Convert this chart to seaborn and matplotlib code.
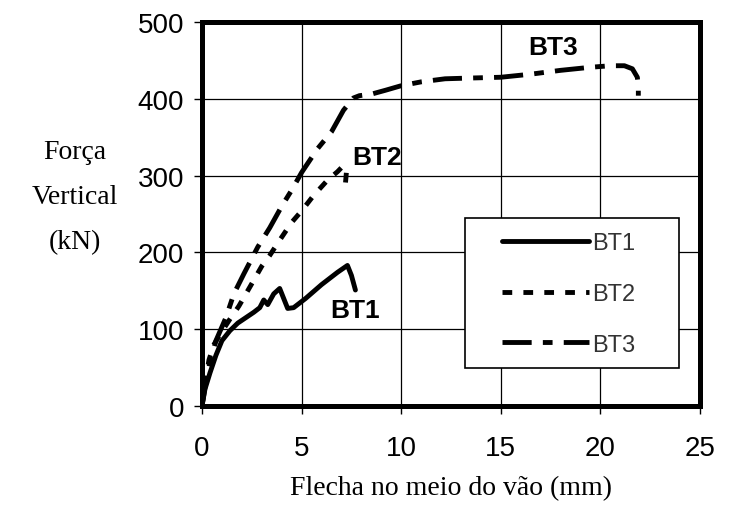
import seaborn as sns
import numpy as np
import pandas as pd
import matplotlib.pyplot as plt
from matplotlib.patches import Rectangle

# deslocamento (mm) e forca (kN)
bt1_x = [0, 0.15, 0.4, 0.7, 1.0, 1.4, 1.8, 2.2, 2.6, 2.9, 3.1, 3.3, 3.6, 3.9, 4.3, 4.6, 5.2, 6.0, 6.8, 7.3, 7.5, 7.7]
bt1_y = [0, 22, 43, 66, 85, 98, 108, 115, 122, 128, 138, 132, 146, 153, 127, 128, 140, 158, 174, 183, 170, 151]

bt2_x = [0, 0.15, 0.35, 0.6, 1.0, 1.4, 1.85, 2.45, 3.0, 3.4, 3.8, 4.5, 5.0, 5.6, 6.3, 6.8, 7.1, 7.25, 7.2]
bt2_y = [0, 30, 60, 80, 97, 113, 130, 157, 182, 196, 212, 239, 254, 274, 294, 305, 313, 305, 290]

bt3_x = [0, 0.2, 0.4, 0.7, 1.0, 1.2, 1.6, 2.1, 2.8, 3.4, 4.0, 4.5, 5.0, 5.8, 6.5, 7.1, 7.6, 7.9, 8.5,
         9.2, 10.0, 11.0, 12.2, 13.5, 15.0, 16.5, 18.0, 19.5, 20.5, 21.2, 21.6, 21.85, 21.9, 21.9]
bt3_y = [0, 32, 57, 85, 103, 115, 146, 172, 207, 232, 260, 281, 304, 335, 357, 385, 401, 404, 406,
         411, 417, 422, 426, 427, 428, 432, 437, 441, 443, 443, 439, 428, 415, 404]

series = ['BT1', 'BT2', 'BT3']
x_ticks = [0, 5, 10, 15, 20, 25]
y_ticks = [0, 100, 200, 300, 400, 500]

# rotulos junto das curvas
label_pos = {'BT1': (7.68, 125), 'BT2': (8.8, 324), 'BT3': (17.6, 467)}

df = pd.concat([
    pd.DataFrame({'x': bt1_x, 'y': bt1_y, 's': 'BT1'}),
    pd.DataFrame({'x': bt2_x, 'y': bt2_y, 's': 'BT2'}),
    pd.DataFrame({'x': bt3_x, 'y': bt3_y, 's': 'BT3'}),
], ignore_index=True)

sns.set_style('ticks')
plt.rcParams['font.family'] = ['Liberation Sans', 'DejaVu Sans']

fig, ax = plt.subplots(figsize=(7.44, 5.1), dpi=100)
fig.subplots_adjust(left=0.2715, right=0.941, bottom=0.202, top=0.955)

dash_map = {'BT1': '', 'BT2': (2, 2.3), 'BT3': (6, 2.3, 2, 2.3)}
sns.lineplot(data=df, x='x', y='y', hue='s', style='s', dashes=dash_map,
             palette=['black'] * 3, sort=False, estimator=None, lw=3.5,
             legend=False, ax=ax)

ax.set_xlim(0, 25)
ax.set_ylim(0, 500)
ax.set_xticks(x_ticks)
ax.set_yticks(y_ticks)
ax.grid(True, color='black', lw=0.9)
ax.set_axisbelow(True)

for sp in ax.spines.values():
    sp.set_visible(True)
    sp.set_linewidth(3.6)
    sp.set_color('black')

ax.tick_params(axis='both', direction='out', length=6, width=1, color='black',
               labelsize=20, labelcolor='black')
ax.tick_params(axis='x', pad=15)
ax.tick_params(axis='y', pad=7)

ax.set_xlabel('Flecha no meio do vão (mm)', family='Liberation Serif', fontsize=20,
              labelpad=10, color='black')
ax.set_ylabel('Força\nVertical\n(kN)', family='Liberation Serif', fontsize=20, rotation=0,
              ha='center', va='center', multialignment='center', linespacing=2.05,
              color='black')
ax.yaxis.set_label_coords(-0.255, 0.545)

for name in series:
    px, py = label_pos[name]
    ax.text(px, py, name, ha='center', va='center', fontsize=19, fontweight='bold',
            color='black')

# caixa da legenda
ax.add_patch(Rectangle((0.528, 0.098), 0.43, 0.391, transform=ax.transAxes,
                       facecolor='white', edgecolor='black', lw=1.2, zorder=3))
ax.legend(ax.lines[:3], series, loc='upper left', bbox_to_anchor=(0.602, 0.452),
          frameon=False, fontsize=17, handlelength=3.7, handletextpad=0.13,
          labelspacing=1.21, borderpad=0, borderaxespad=0, labelcolor='#333333')

fig.savefig('out.png', dpi=100)
